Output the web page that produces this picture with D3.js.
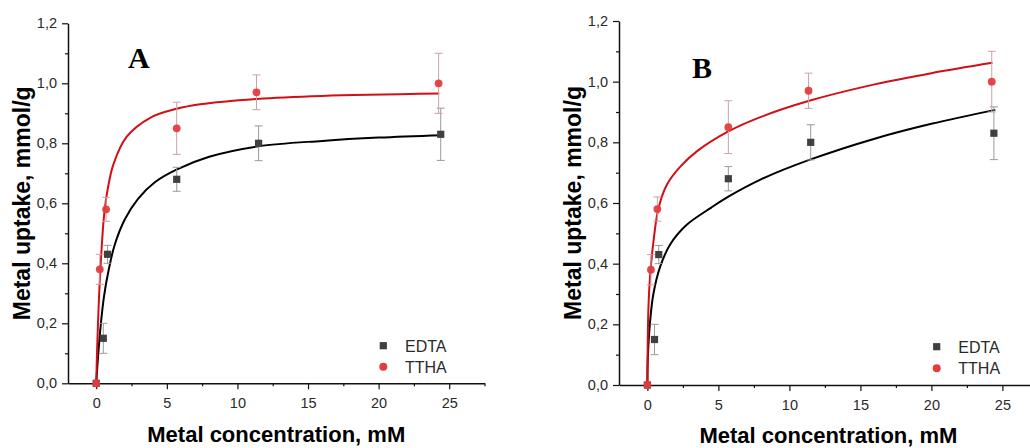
<!DOCTYPE html>
<html>
<head>
<meta charset="utf-8">
<script src="https://cdn.jsdelivr.net/npm/d3@7"></script>
<style>
  html, body { margin: 0; padding: 0; background: #fff; }
  svg { display: block; }
  text { font-family: "Liberation Sans", Arial, sans-serif; }
</style>
</head>
<body>
<svg id="chart" width="1030" height="448"></svg>
<script>
// ---------- data ----------
const edtaX   = [0, 0.5, 0.8, 5.7, 11.5, 24.4];
const edtaY   = [0, 0.15, 0.43, 0.68, 0.80, 0.83];
const edtaErr = [0, 0.05, 0.03, 0.04, 0.058, 0.087];

const tthaX   = [0, 0.25, 0.7, 5.7, 11.35, 24.25];
const tthaY   = [0, 0.38, 0.58, 0.85, 0.97, 1.00];
const tthaErr = [0, 0.05, 0.04, 0.087, 0.058, 0.10];

// fitted curves, panel A
const fitA_edtaX = [0, 0.13, 0.32, 0.55, 0.89, 1.31, 2.02, 2.96, 4.15, 5.68, 8, 11.5, 16, 20, 24.5];
const fitA_edtaY = [0, 0.09, 0.195, 0.29, 0.38, 0.462, 0.546, 0.615, 0.67, 0.712, 0.755, 0.79, 0.808, 0.819, 0.827];
const fitA_tthaX = [0, 0.06, 0.2, 0.32, 0.55, 0.79, 1.21, 2.16, 3.82, 5.7, 7.36, 11.4, 16, 24.3];
const fitA_tthaY = [0, 0.11, 0.29, 0.40, 0.557, 0.641, 0.729, 0.822, 0.885, 0.915, 0.93, 0.948, 0.958, 0.966];

// fitted curves, panel B
const fitB_edtaX = [0, 0.01, 0.07, 0.19, 0.42, 0.9, 1.6, 2.77, 4.5, 5.7, 8, 11.4, 16, 20, 24.5];
const fitB_edtaY = [0, 0.06, 0.13, 0.21, 0.30, 0.39, 0.463, 0.528, 0.585, 0.621, 0.678, 0.742, 0.812, 0.861, 0.907];
const fitB_tthaX = [0, 0.02, 0.07, 0.19, 0.42, 0.77, 1.37, 2.3, 3.5, 5.7, 8, 11.4, 16, 20, 24.3];
const fitB_tthaY = [0, 0.12, 0.25, 0.36, 0.47, 0.58, 0.66, 0.719, 0.771, 0.836, 0.884, 0.937, 0.991, 1.028, 1.062];

const xMajor = [0, 5, 10, 15, 20, 25];
const xMinor = [2.5, 7.5, 12.5, 17.5, 22.5, 27.5];
const yMajor = [0, 0.2, 0.4, 0.6, 0.8, 1.0, 1.2];
const yMinor = [0.1, 0.3, 0.5, 0.7, 0.9, 1.1];
const seriesNames = ["EDTA", "TTHA"];
const panelLetters = ["A", "B"];
const xTitle = "Metal concentration, mM";
const yTitle = "Metal uptake, mmol/g";

// ---------- layout ----------
const svg = d3.select("#chart");
const C_SQ = "#404040", C_CI = "#e43c3f", C_RED = "#d20f14";
const fmt = v => d3.format(".1f")(v).replace(".", ",");

const panels = [
  { x0: 68, x1: 484.5, yb: 383.3, yt: 23.3, xPad: 8, letter: [128, 68],
    yTitleX: 30, xTitleY: 441.5, legend: { mx: 383.3, tx: 405, y1: 345.7, y2: 366.7 },
    fits: [[fitA_edtaX, fitA_edtaY], [fitA_tthaX, fitA_tthaY]] },
  { x0: 619, x1: 1037.9, yb: 385, yt: 21, xPad: 9, letter: [692, 78],
    yTitleX: 581, xTitleY: 443, legend: { mx: 936.7, tx: 958.3, y1: 346.7, y2: 368.3 },
    fits: [[fitB_edtaX, fitB_edtaY], [fitB_tthaX, fitB_tthaY]] }
];

panels.forEach((p, i) => {
  const g = svg.append("g");
  const x = d3.scaleLinear().domain([-2, 27.5]).range([p.x0, p.x1]);
  const y = d3.scaleLinear().domain([0, 1.2]).range([p.yb, p.yt]);

  // x axis
  const gx = g.append("g").attr("transform", `translate(0,${p.yb})`);
  gx.call(d3.axisBottom(x).tickValues(xMajor).tickSize(6).tickSizeOuter(0)
      .tickPadding(p.xPad).tickFormat(d3.format("d")));
  gx.append("g").call(d3.axisBottom(x).tickValues(xMinor).tickSize(3).tickSizeOuter(0).tickFormat(""))
    .select(".domain").remove();
  // y axis
  const gy = g.append("g").attr("transform", `translate(${p.x0},0)`);
  gy.call(d3.axisLeft(y).tickValues(yMajor).tickSize(6).tickSizeOuter(0)
      .tickPadding(5).tickFormat(fmt));
  gy.append("g").call(d3.axisLeft(y).tickValues(yMinor).tickSize(3).tickSizeOuter(0).tickFormat(""))
    .select(".domain").remove();

  g.selectAll(".domain").attr("stroke", "#111").attr("stroke-width", 1.5);
  g.selectAll(".tick line").attr("stroke", "#111").attr("stroke-width", 1.2);
  g.selectAll(".tick text").attr("fill", "#2a2a2a")
    .style("font-size", "14.5px").style("font-family", "'Liberation Sans', Arial, sans-serif");

  // fit curves
  const line = d3.line().x(d => x(d[0])).y(d => y(d[1])).curve(d3.curveCatmullRom.alpha(0.5));
  const fitColors = ["#000", C_RED];
  p.fits.forEach((f, k) => {
    const pts = f[0].map((v, j) => [v, f[1][j]]);
    g.append("path").datum(pts).attr("d", line)
      .attr("fill", "none").attr("stroke", fitColors[k]).attr("stroke-width", 2);
  });

  // error bars
  const drawErr = (xs, ys, es, col) => {
    xs.forEach((xv, j) => {
      if (!es[j]) return;
      const cx = x(xv), yT = y(ys[j] + es[j]), yB = y(ys[j] - es[j]);
      g.append("line").attr("x1", cx).attr("x2", cx).attr("y1", yT).attr("y2", yB)
        .attr("stroke", col).attr("stroke-width", 1);
      [yT, yB].forEach(yy => g.append("line").attr("x1", cx - 4).attr("x2", cx + 4)
        .attr("y1", yy).attr("y2", yy).attr("stroke", col).attr("stroke-width", 1));
    });
  };
  drawErr(edtaX, edtaY, edtaErr, "#9a9a9a");
  drawErr(tthaX, tthaY, tthaErr, "#c9a3a3");

  // markers
  g.selectAll(null).data(edtaX.map((v, j) => [v, edtaY[j]])).enter().append("rect")
    .attr("x", d => x(d[0]) - 3.6).attr("y", d => y(d[1]) - 3.6)
    .attr("width", 7.2).attr("height", 7.2).attr("fill", C_SQ);
  g.selectAll(null).data(tthaX.map((v, j) => [v, tthaY[j]])).enter().append("circle")
    .attr("cx", d => x(d[0])).attr("cy", d => y(d[1])).attr("r", 3.9)
    .attr("fill", C_CI).attr("fill-opacity", 0.95);

  // legend
  const L = p.legend;
  g.append("rect").attr("x", L.mx - 3.6).attr("y", L.y1 - 3.6).attr("width", 7.2).attr("height", 7.2).attr("fill", C_SQ);
  g.append("circle").attr("cx", L.mx).attr("cy", L.y2).attr("r", 4).attr("fill", C_CI);
  g.append("text").attr("x", L.tx).attr("y", L.y1 + 6).text(seriesNames[0])
    .attr("fill", "#2a2a2a").style("font-size", "16px");
  g.append("text").attr("x", L.tx).attr("y", L.y2 + 6).text(seriesNames[1])
    .attr("fill", "#2a2a2a").style("font-size", "16px");

  // panel letter
  g.append("text").attr("x", p.letter[0]).attr("y", p.letter[1]).text(panelLetters[i])
    .style("font-family", "'Liberation Serif', 'Times New Roman', serif")
    .style("font-weight", "bold").style("font-size", "30px").attr("fill", "#000");

  // axis titles
  g.append("text").attr("x", (p.x0 + p.x1) / 2).attr("y", p.xTitleY).attr("text-anchor", "middle")
    .style("font-weight", "bold").style("font-size", "22px").attr("fill", "#000").text(xTitle);
  g.append("text").attr("transform", `translate(${p.yTitleX},${(p.yb + p.yt) / 2}) rotate(-90)`)
    .attr("text-anchor", "middle").style("font-weight", "bold").style("font-size", "23px")
    .attr("fill", "#000").text(yTitle);
});
</script>
</body>
</html>
